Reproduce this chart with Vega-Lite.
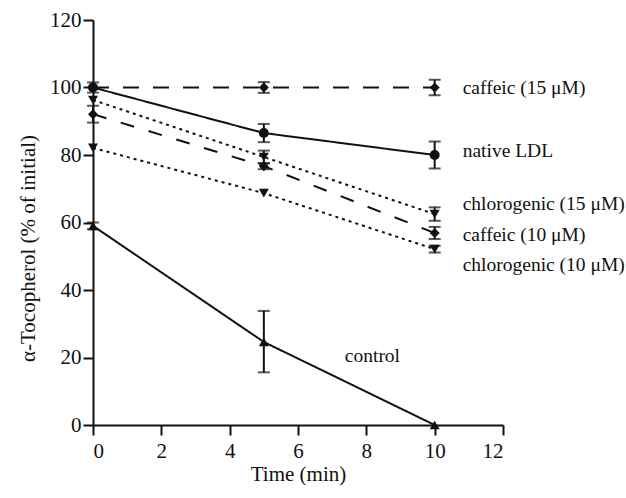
{
  "$schema": "https://vega.github.io/schema/vega-lite/v6.json",
  "width": 410,
  "height": 405,
  "autosize": "none",
  "padding": {"left": 93, "top": 20, "right": 123, "bottom": 73},
  "background": "white",
  "config": {
    "view": {"stroke": null},
    "font": "Times New Roman, Liberation Serif, serif",
    "text": {"font": "Times New Roman, Liberation Serif, serif"},
    "axis": {
      "grid": false,
      "domainColor": "#111",
      "domainWidth": 2,
      "tickColor": "#111",
      "tickWidth": 2,
      "tickSize": 10,
      "labelFont": "Times New Roman, Liberation Serif, serif",
      "labelFontSize": 21,
      "labelColor": "#111",
      "titleFont": "Times New Roman, Liberation Serif, serif",
      "titleFontSize": 21,
      "titleFontWeight": 400,
      "titleColor": "#111"
    }
  },
  "datasets": {
    "pts": [
      {"series": "caffeic15", "t": 0, "v": 100},
      {"series": "caffeic15", "t": 5, "v": 100, "lo": 98.4, "hi": 101.6},
      {"series": "caffeic15", "t": 10, "v": 100, "lo": 97.7, "hi": 102.3},
      {"series": "native", "t": 0, "v": 100, "lo": 98.5, "hi": 101.5},
      {"series": "native", "t": 5, "v": 86.5, "lo": 83.8, "hi": 89.2},
      {"series": "native", "t": 10, "v": 80, "lo": 76, "hi": 84},
      {"series": "chloro15", "t": 0, "v": 96.3},
      {"series": "chloro15", "t": 5, "v": 79.4, "lo": 77.5, "hi": 81.3},
      {"series": "chloro15", "t": 10, "v": 62.5, "lo": 60.5, "hi": 64.5},
      {"series": "caffeic10", "t": 0, "v": 92.1, "lo": 89.6, "hi": 94.6},
      {"series": "caffeic10", "t": 5, "v": 76.7, "lo": 75.8, "hi": 77.6},
      {"series": "caffeic10", "t": 10, "v": 56.9, "lo": 55.1, "hi": 58.7},
      {"series": "chloro10", "t": 0, "v": 82.1},
      {"series": "chloro10", "t": 5, "v": 68.7},
      {"series": "chloro10", "t": 10, "v": 52.1, "lo": 51.1, "hi": 53.1},
      {"series": "control", "t": 0, "v": 59, "lo": 58, "hi": 60},
      {"series": "control", "t": 5, "v": 24.6, "lo": 15.6, "hi": 33.8},
      {"series": "control", "t": 10, "v": 0}
    ],
    "labels": [
      {"label": "caffeic (15 μM)", "lx": 10.82, "ly": 100},
      {"label": "native LDL", "lx": 10.82, "ly": 81.1},
      {"label": "chlorogenic (15 μM)", "lx": 10.82, "ly": 65.5},
      {"label": "caffeic (10 μM)", "lx": 10.82, "ly": 56.4},
      {"label": "chlorogenic (10 μM)", "lx": 10.82, "ly": 47.5},
      {"label": "control", "lx": 7.37, "ly": 20.4}
    ]
  },
  "layer": [
    {
      "data": {"name": "pts"},
      "mark": {"type": "line", "color": "#111", "strokeWidth": 2, "clip": false},
      "encoding": {
        "x": {"field": "t", "type": "quantitative", "scale": {"domain": [0, 12]},
              "axis": {"values": [0, 2, 4, 6, 8, 10, 12], "title": "Time (min)", "labelPadding": 5, "titlePadding": 2, "titleFontWeight": 400}},
        "y": {"field": "v", "type": "quantitative", "scale": {"domain": [0, 120]},
              "axis": {"values": [0, 20, 40, 60, 80, 100, 120], "title": "α-Tocopherol (% of initial)", "labelPadding": 2, "titlePadding": 11, "titleY": 228, "titleFontWeight": 400}},
        "detail": {"field": "series"},
        "strokeDash": {"field": "series", "type": "nominal", "legend": null,
          "scale": {"domain": ["caffeic15", "native", "chloro15", "caffeic10", "chloro10", "control"],
                    "range": [[16, 14], [1, 0], [3, 4], [14, 15], [3, 4], [1, 0]]}}
      }
    },
    {
      "data": {"name": "pts"},
      "transform": [{"filter": "isValid(datum.lo)"}],
      "mark": {"type": "rule", "color": "#111", "strokeWidth": 2},
      "encoding": {
        "x": {"field": "t", "type": "quantitative"},
        "y": {"field": "lo", "type": "quantitative"},
        "y2": {"field": "hi"}
      }
    },
    {
      "data": {"name": "pts"},
      "transform": [{"filter": "isValid(datum.lo)"}],
      "mark": {"type": "tick", "color": "#111", "orient": "horizontal", "size": 12, "thickness": 2},
      "encoding": {
        "x": {"field": "t", "type": "quantitative"},
        "y": {"field": "lo", "type": "quantitative"}
      }
    },
    {
      "data": {"name": "pts"},
      "transform": [{"filter": "isValid(datum.lo)"}],
      "mark": {"type": "tick", "color": "#111", "orient": "horizontal", "size": 12, "thickness": 2},
      "encoding": {
        "x": {"field": "t", "type": "quantitative"},
        "y": {"field": "hi", "type": "quantitative"}
      }
    },
    {
      "data": {"name": "pts"},
      "mark": {"type": "point", "filled": true, "color": "#111", "opacity": 1, "size": 100, "clip": false},
      "encoding": {
        "x": {"field": "t", "type": "quantitative"},
        "y": {"field": "v", "type": "quantitative"},
        "shape": {"field": "series", "type": "nominal", "legend": null,
          "scale": {"domain": ["caffeic15", "native", "chloro15", "caffeic10", "chloro10", "control"],
                    "range": ["diamond", "circle", "triangle-down", "diamond", "triangle-down", "triangle-up"]}}
      }
    },
    {
      "data": {"name": "labels"},
      "mark": {"type": "text", "align": "left", "baseline": "middle", "fontSize": 19.5, "color": "#111", "clip": false},
      "encoding": {
        "x": {"field": "lx", "type": "quantitative"},
        "y": {"field": "ly", "type": "quantitative"},
        "text": {"field": "label"}
      }
    }
  ]
}
